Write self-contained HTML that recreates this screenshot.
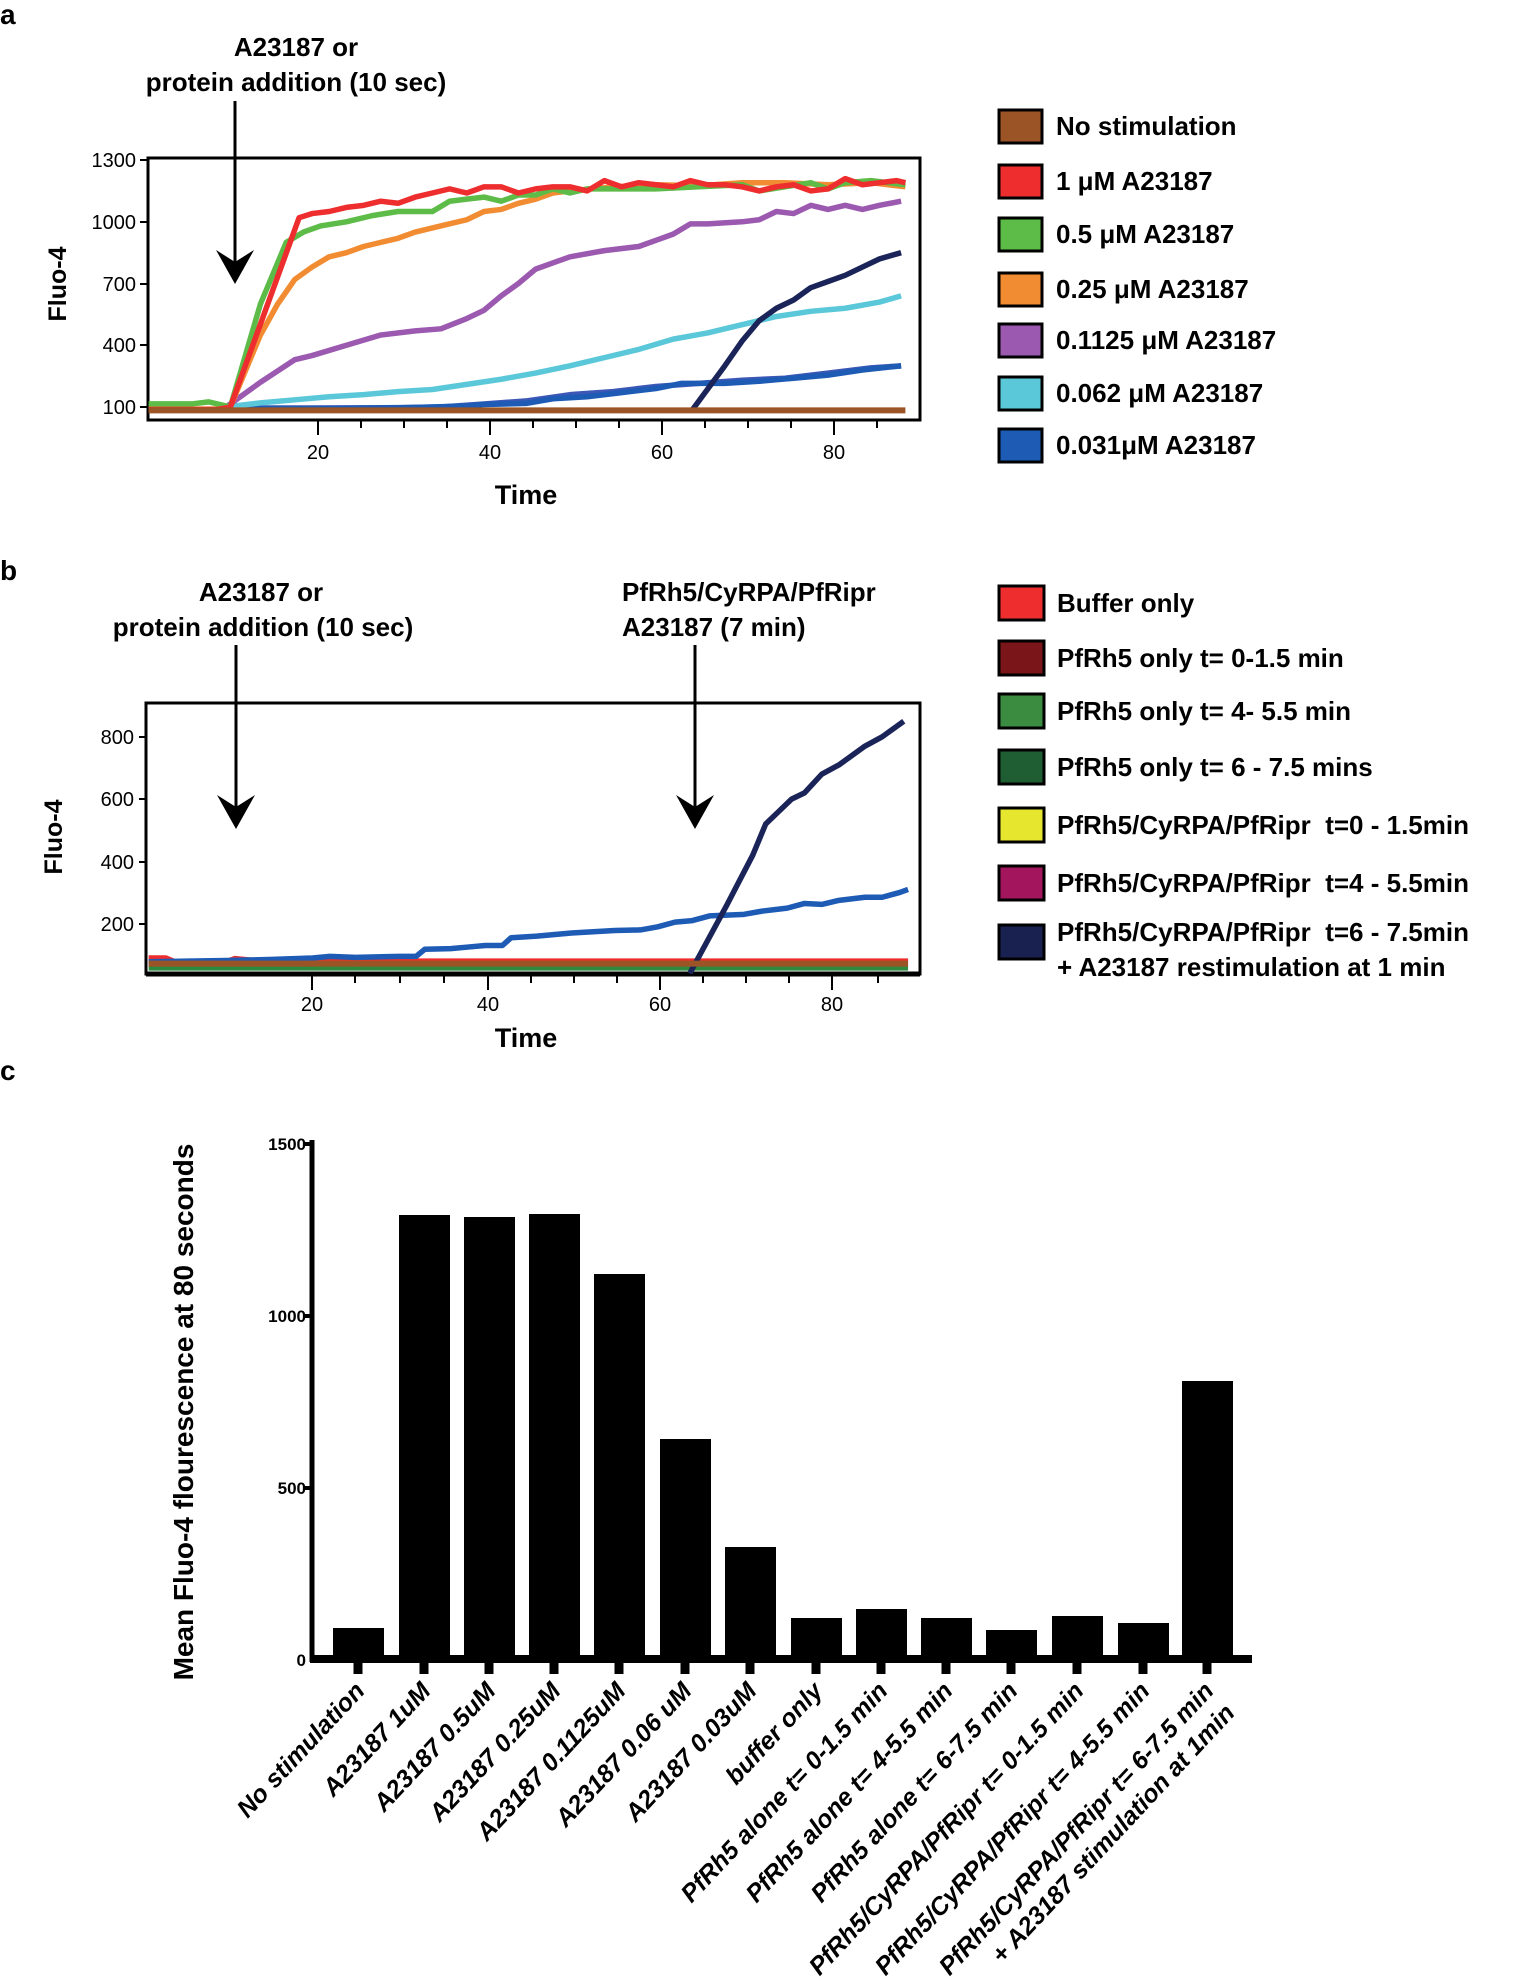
<!DOCTYPE html>
<html><head><meta charset="utf-8"><style>
body{margin:0;background:#fff;}
svg{display:block;font-family:"Liberation Sans",sans-serif;}
.b{font-weight:bold;}
</style></head><body>
<svg width="1520" height="1980" viewBox="0 0 1520 1980" xmlns="http://www.w3.org/2000/svg">
<defs>
<clipPath id="ca"><rect x="148" y="158" width="772" height="262"/></clipPath>
<clipPath id="cb"><rect x="146" y="703" width="774" height="271"/></clipPath>
</defs>
<text x="0" y="24" class="b" font-size="28">a</text>
<text x="0" y="580" class="b" font-size="28">b</text>
<text x="0" y="1080" class="b" font-size="28">c</text>

<!-- ===== Panel a ===== -->
<text x="296" y="56" class="b" font-size="26" text-anchor="middle">A23187 or</text>
<text x="296" y="91" class="b" font-size="26" text-anchor="middle">protein addition (10 sec)</text>
<line x1="235" y1="101" x2="235" y2="270" stroke="#000" stroke-width="3"/>
<polygon points="216,250 235,284 254,250 235,262" fill="#000"/>
<rect x="148" y="158" width="772" height="262" fill="none" stroke="#000" stroke-width="3"/>
<g font-size="20" text-anchor="end">
<text x="136" y="167">1300</text><text x="136" y="229">1000</text><text x="136" y="291">700</text><text x="136" y="352">400</text><text x="136" y="414">100</text>
</g>
<g stroke="#000" stroke-width="2">
<line x1="140" y1="160" x2="148" y2="160"/><line x1="140" y1="222" x2="148" y2="222"/><line x1="140" y1="284" x2="148" y2="284"/><line x1="140" y1="345" x2="148" y2="345"/><line x1="140" y1="407" x2="148" y2="407"/>
<line x1="318" y1="420" x2="318" y2="435"/><line x1="490" y1="420" x2="490" y2="435"/><line x1="662" y1="420" x2="662" y2="435"/><line x1="834" y1="420" x2="834" y2="435"/>
<line x1="361" y1="420" x2="361" y2="428"/><line x1="404" y1="420" x2="404" y2="428"/><line x1="447" y1="420" x2="447" y2="428"/><line x1="533" y1="420" x2="533" y2="428"/><line x1="576" y1="420" x2="576" y2="428"/><line x1="619" y1="420" x2="619" y2="428"/><line x1="705" y1="420" x2="705" y2="428"/><line x1="748" y1="420" x2="748" y2="428"/><line x1="791" y1="420" x2="791" y2="428"/><line x1="877" y1="420" x2="877" y2="428"/>
</g>
<g font-size="20" text-anchor="middle">
<text x="318" y="459">20</text><text x="490" y="459">40</text><text x="662" y="459">60</text><text x="834" y="459">80</text>
</g>
<text x="526" y="504" class="b" font-size="27" text-anchor="middle">Time</text>
<text transform="translate(66,284) rotate(-90)" class="b" font-size="25" text-anchor="middle">Fluo-4</text>
<g clip-path="url(#ca)">
<g transform="matrix(8.6,0,0,-0.2058,140,427.6)" fill="none" stroke-width="5.5" stroke-linejoin="round">
<polyline vector-effect="non-scaling-stroke" stroke="#3c57b5" points="10,95 20,95 30,97 35,100 40,115 45,130 50,160 55,175 60,200 65,215 70,230 75,240 80,265 85,290 88.5,300"/>
<polyline vector-effect="non-scaling-stroke" stroke="#1d5bb5" points="10,92 20,92 30,96 38,105 40,112 45,118 48,140 52,150 56,170 60,190 63,215 68,215 72,225 76,240 80,255 84,280 88.5,300"/>
<polyline vector-effect="non-scaling-stroke" stroke="#5bc8da" points="10,100 14,120 18,135 22,150 26,160 30,175 34,185 38,210 42,235 46,265 50,300 54,340 58,380 62,430 66,460 70,500 74,540 78,565 82,580 86,610 88.5,640"/>
<polyline vector-effect="non-scaling-stroke" stroke="#9b59b0" points="10,100 14,220 18,330 20,350 24,400 28,450 32,470 35,480 38,530 40,570 42,640 44,700 46,770 48,800 50,830 54,860 58,880 60,910 62,940 64,990 66,990 70,1000 72,1010 74,1050 76,1040 78,1080 80,1060 82,1080 84,1060 86,1080 88.5,1100"/>
<polyline vector-effect="non-scaling-stroke" stroke="#f28c32" points="1,90 9,90 10.5,100 14,450 16,600 18,720 20,780 22,830 24,850 26,880 28,900 30,920 32,950 34,970 36,990 38,1010 40,1050 42,1060 44,1090 46,1110 48,1140 50,1150 55,1170 60,1180 65,1175 70,1190 75,1190 80,1180 85,1190 89,1170"/>
<polyline vector-effect="non-scaling-stroke" stroke="#5dbb47" points="1,115 6,115 8,125 9.5,110 10.5,100 14,600 17,900 19,950 21,980 24,1000 27,1030 30,1050 34,1050 36,1100 38,1110 40,1120 42,1100 44,1130 46,1130 48,1160 50,1140 52,1160 55,1160 60,1160 65,1170 70,1180 72,1150 75,1170 78,1190 80,1160 82,1190 85,1200 89,1180"/>
<polyline vector-effect="non-scaling-stroke" stroke="#ee2e2e" points="1,88 9,88 10.5,100 18.5,1020 20,1040 22,1050 24,1070 26,1080 28,1100 30,1090 32,1120 34,1140 36,1160 38,1140 40,1170 42,1170 44,1140 46,1160 48,1170 50,1170 52,1150 54,1200 56,1170 58,1190 60,1180 62,1170 64,1200 66,1180 68,1180 70,1170 72,1150 74,1170 76,1180 78,1150 80,1160 82,1210 84,1180 86,1190 88,1200 89,1190"/>
<polyline vector-effect="non-scaling-stroke" stroke="#1b2458" points="64.2,85 68,300 70,420 72,520 74,580 76,620 78,680 80,710 82,740 84,780 86,820 88.5,850"/>
<polyline vector-effect="non-scaling-stroke" stroke="#9b5426" stroke-width="6" points="1,84 89,84"/>
</g></g>
<g stroke="#000" stroke-width="3">
<rect x="999" y="110" width="43" height="33" fill="#9b5426"/>
<rect x="999" y="165" width="43" height="33" fill="#ee2e2e"/>
<rect x="999" y="218" width="43" height="33" fill="#5dbb47"/>
<rect x="999" y="273" width="43" height="33" fill="#f28c32"/>
<rect x="999" y="324" width="43" height="33" fill="#9b59b0"/>
<rect x="999" y="377" width="43" height="33" fill="#5bc8da"/>
<rect x="999" y="429" width="43" height="33" fill="#1d5bb5"/>
</g>
<g class="b" font-size="26">
<text x="1056" y="135">No stimulation</text>
<text x="1056" y="190">1 μM A23187</text>
<text x="1056" y="243">0.5 μM A23187</text>
<text x="1056" y="298">0.25 μM A23187</text>
<text x="1056" y="349">0.1125 μM A23187</text>
<text x="1056" y="402">0.062 μM A23187</text>
<text x="1056" y="454">0.031μM A23187</text>
</g>

<!-- ===== Panel b ===== -->
<text x="261" y="601" class="b" font-size="26" text-anchor="middle">A23187 or</text>
<text x="263" y="636" class="b" font-size="26" text-anchor="middle">protein addition (10 sec)</text>
<text x="622" y="601" class="b" font-size="26">PfRh5/CyRPA/PfRipr</text>
<text x="622" y="636" class="b" font-size="26">A23187 (7 min)</text>
<line x1="236" y1="645" x2="236" y2="812" stroke="#000" stroke-width="3"/>
<polygon points="217,795 236,829 255,795 236,807" fill="#000"/>
<line x1="695" y1="645" x2="695" y2="812" stroke="#000" stroke-width="3"/>
<polygon points="676,795 695,829 714,795 695,807" fill="#000"/>
<rect x="146" y="703" width="774" height="271" fill="none" stroke="#000" stroke-width="3"/>
<line x1="146" y1="974" x2="920" y2="974" stroke="#000" stroke-width="5"/>
<g font-size="20" text-anchor="end">
<text x="134" y="744">800</text><text x="134" y="806">600</text><text x="134" y="869">400</text><text x="134" y="931">200</text>
</g>
<g stroke="#000" stroke-width="2">
<line x1="139" y1="737" x2="146" y2="737"/><line x1="139" y1="799" x2="146" y2="799"/><line x1="139" y1="862" x2="146" y2="862"/><line x1="139" y1="924" x2="146" y2="924"/>
<line x1="312" y1="974" x2="312" y2="990"/><line x1="488" y1="974" x2="488" y2="990"/><line x1="660" y1="974" x2="660" y2="990"/><line x1="832" y1="974" x2="832" y2="990"/>
<line x1="355" y1="974" x2="355" y2="983"/><line x1="400" y1="974" x2="400" y2="983"/><line x1="444" y1="974" x2="444" y2="983"/><line x1="531" y1="974" x2="531" y2="983"/><line x1="574" y1="974" x2="574" y2="983"/><line x1="617" y1="974" x2="617" y2="983"/><line x1="703" y1="974" x2="703" y2="983"/><line x1="746" y1="974" x2="746" y2="983"/><line x1="789" y1="974" x2="789" y2="983"/><line x1="878" y1="974" x2="878" y2="983"/>
</g>
<g font-size="20" text-anchor="middle">
<text x="312" y="1011">20</text><text x="488" y="1011">40</text><text x="660" y="1011">60</text><text x="832" y="1011">80</text>
</g>
<text x="526" y="1047" class="b" font-size="27" text-anchor="middle">Time</text>
<text transform="translate(62,837) rotate(-90)" class="b" font-size="25" text-anchor="middle">Fluo-4</text>
<g clip-path="url(#cb)">
<g transform="matrix(8.63,0,0,-0.3115,140,986)" fill="none" stroke-width="5.5" stroke-linejoin="round">
<polyline vector-effect="non-scaling-stroke" stroke="#2e8a3e" points="1,58 89,58"/>
<polyline vector-effect="non-scaling-stroke" stroke="#ee2e2e" points="1,90 3,90 4,78 10,78 11,88 14,80 89,80"/>
<polyline vector-effect="non-scaling-stroke" stroke="#1d5bb5" points="1,78 10,82 15,85 20,90 22,95 25,92 30,95 32,95 33,118 36,120 38,125 40,130 42,130 43,155 46,160 50,170 55,178 58,180 60,190 62,205 64,210 66,225 70,230 72,240 75,250 77,265 79,262 81,275 84,285 86,285 88,300 89,310"/>
<polyline vector-effect="non-scaling-stroke" stroke="#1b2458" points="63.7,40 68,260 71,420 72.5,520 74,560 75.5,600 77,620 79,680 81,710 82.5,740 84,770 86,800 88.5,850"/>
<polyline vector-effect="non-scaling-stroke" stroke="#9b5426" stroke-width="6" points="1,72 89,72"/>
</g></g>
<g stroke="#000" stroke-width="3">
<rect x="999" y="586" width="45" height="34" fill="#ee2e2e"/>
<rect x="999" y="641" width="45" height="34" fill="#7a1519"/>
<rect x="999" y="694" width="45" height="34" fill="#3b8c40"/>
<rect x="999" y="750" width="45" height="34" fill="#1f5e33"/>
<rect x="999" y="808" width="45" height="34" fill="#e7e62f"/>
<rect x="999" y="866" width="45" height="34" fill="#a3165d"/>
<rect x="999" y="925" width="45" height="34" fill="#18214f"/>
</g>
<g class="b" font-size="26">
<text x="1057" y="612">Buffer only</text>
<text x="1057" y="667">PfRh5 only t= 0-1.5 min</text>
<text x="1057" y="720">PfRh5 only t= 4- 5.5 min</text>
<text x="1057" y="776">PfRh5 only t= 6 - 7.5 mins</text>
<text x="1057" y="834" xml:space="preserve">PfRh5/CyRPA/PfRipr  t=0 - 1.5min</text>
<text x="1057" y="892" xml:space="preserve">PfRh5/CyRPA/PfRipr  t=4 - 5.5min</text>
<text x="1057" y="941" xml:space="preserve">PfRh5/CyRPA/PfRipr  t=6 - 7.5min</text>
<text x="1057" y="976">+ A23187 restimulation at 1 min</text>
</g>

<!-- ===== Panel c ===== -->
<text transform="translate(193,1412) rotate(-90)" class="b" font-size="28" text-anchor="middle">Mean Fluo-4 flourescence at 80 seconds</text>
<line x1="312" y1="1140" x2="312" y2="1662" stroke="#000" stroke-width="5"/>
<line x1="310" y1="1659" x2="1252" y2="1659" stroke="#000" stroke-width="8"/>
<g stroke="#000" stroke-width="4">
<line x1="303" y1="1144" x2="312" y2="1144"/><line x1="303" y1="1316" x2="312" y2="1316"/><line x1="303" y1="1488" x2="312" y2="1488"/>
</g>
<g class="b" font-size="17" text-anchor="end">
<text x="306" y="1150">1500</text><text x="306" y="1322">1000</text><text x="306" y="1494">500</text><text x="306" y="1666">0</text>
</g>
<g fill="#000">
<rect x="333" y="1628" width="51" height="31"/>
<rect x="399" y="1215" width="51" height="444"/>
<rect x="464" y="1217" width="51" height="442"/>
<rect x="529" y="1214" width="51" height="445"/>
<rect x="594" y="1274" width="51" height="385"/>
<rect x="660" y="1439" width="51" height="220"/>
<rect x="725" y="1547" width="51" height="112"/>
<rect x="791" y="1618" width="51" height="41"/>
<rect x="856" y="1609" width="51" height="50"/>
<rect x="921" y="1618" width="51" height="41"/>
<rect x="986" y="1630" width="51" height="29"/>
<rect x="1052" y="1616" width="51" height="43"/>
<rect x="1118" y="1623" width="51" height="36"/>
<rect x="1182" y="1381" width="51" height="278"/>
</g>
<g stroke="#000" stroke-width="9">
<line x1="358" y1="1660" x2="358" y2="1674"/><line x1="424" y1="1660" x2="424" y2="1674"/><line x1="489" y1="1660" x2="489" y2="1674"/><line x1="554" y1="1660" x2="554" y2="1674"/><line x1="619" y1="1660" x2="619" y2="1674"/><line x1="685" y1="1660" x2="685" y2="1674"/><line x1="750" y1="1660" x2="750" y2="1674"/><line x1="816" y1="1660" x2="816" y2="1674"/><line x1="881" y1="1660" x2="881" y2="1674"/><line x1="946" y1="1660" x2="946" y2="1674"/><line x1="1011" y1="1660" x2="1011" y2="1674"/><line x1="1077" y1="1660" x2="1077" y2="1674"/><line x1="1143" y1="1660" x2="1143" y2="1674"/><line x1="1207" y1="1660" x2="1207" y2="1674"/>
</g>
<g class="b" font-size="25" font-style="italic" text-anchor="end">
<text transform="translate(366,1692) rotate(-47)">No stimulation</text>
<text transform="translate(432,1692) rotate(-47)">A23187 1uM</text>
<text transform="translate(497,1692) rotate(-47)">A23187 0.5uM</text>
<text transform="translate(562,1692) rotate(-47)">A23187 0.25uM</text>
<text transform="translate(627,1692) rotate(-47)">A23187 0.1125uM</text>
<text transform="translate(693,1692) rotate(-47)">A23187 0.06 uM</text>
<text transform="translate(758,1692) rotate(-47)">A23187 0.03uM</text>
<text transform="translate(824,1692) rotate(-47)">buffer only</text>
<text transform="translate(889,1692) rotate(-47)">PfRh5 alone t= 0-1.5 min</text>
<text transform="translate(954,1692) rotate(-47)">PfRh5 alone t= 4-5.5 min</text>
<text transform="translate(1019,1692) rotate(-47)">PfRh5 alone t= 6-7.5 min</text>
<text transform="translate(1085,1692) rotate(-47)">PfRh5/CyRPA/PfRipr t= 0-1.5 min</text>
<text transform="translate(1151,1692) rotate(-47)">PfRh5/CyRPA/PfRipr t= 4-5.5 min</text>
<text transform="translate(1215,1692) rotate(-47)">PfRh5/CyRPA/PfRipr t= 6-7.5 min</text>
<text transform="translate(1236,1714) rotate(-47)">+ A23187 stimulation at 1min</text>
</g>
</svg>
</body></html>
